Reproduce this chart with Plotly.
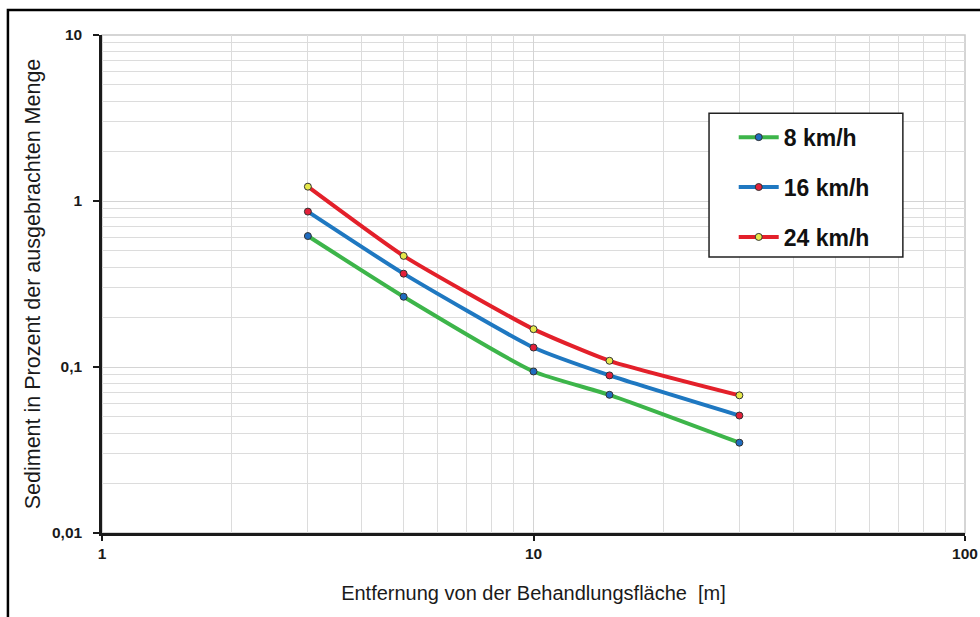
import plotly.graph_objects as go

distance_m = [3, 5, 10, 15, 30]
series_names = ["8 km/h", "16 km/h", "24 km/h"]
sed_8 = [0.615, 0.265, 0.094, 0.068, 0.035]
sed_16 = [0.863, 0.365, 0.131, 0.089, 0.051]
sed_24 = [1.22, 0.467, 0.169, 0.109, 0.0675]

y_tickvals = [0.01, 0.1, 1, 10]
y_ticktext = ["0,01", "0,1", "1", "10"]
x_tickvals = [1, 10, 100]
x_ticktext = ["1", "10", "100"]

line_colors = ["#3db54a", "#1f78c1", "#e3202a"]
marker_colors = ["#1f6cc0", "#e3203a", "#e6e84a"]
series_values = [sed_8, sed_16, sed_24]

fig = go.Figure()
for name, vals, lc, mc in zip(series_names, series_values, line_colors, marker_colors):
    fig.add_trace(go.Scatter(
        x=distance_m, y=vals, name=name, mode="lines+markers",
        line=dict(color=lc, width=4, shape="spline", smoothing=0.5),
        marker=dict(color=mc, size=7, line=dict(color="#333333", width=1)),
        legendgroup=name,
    ))

font_family = "Liberation Sans, Arial, sans-serif"

fig.update_layout(
    width=980, height=617,
    margin=dict(l=102, r=15, t=35, b=84, autoexpand=False),
    paper_bgcolor="white", plot_bgcolor="white",
    font=dict(family=font_family, color="#1a1a1a"),
    showlegend=True,
    legend=dict(
        x=0.732, y=0.838, xanchor="left", yanchor="top",
        borderwidth=0, bgcolor="rgba(0,0,0,0)",
        font=dict(size=23, family=font_family, color="#111111", weight="bold"),
        itemwidth=40, tracegroupgap=17, traceorder="grouped",
    ),
    xaxis=dict(
        type="log", range=[0, 2], automargin=False,
        tickvals=x_tickvals, ticktext=["<b>%s</b>" % t for t in x_ticktext],
        tickfont=dict(size=15.5, color="#1a1a1a"),
        ticks="outside", ticklen=5, tickcolor="#1a1a1a", tickwidth=1.5,
        showline=True, linecolor="#1a1a1a", linewidth=2.5,
        showgrid=True, gridcolor="#d4d4d4", gridwidth=1,
        minor=dict(dtick="D1", showgrid=True, gridcolor="#dcdcdc", ticks=""),
        title=dict(text="Entfernung von der Behandlungsfläche  [m]",
                   font=dict(size=20, color="#1a1a1a"), standoff=25),
        zeroline=False,
    ),
    yaxis=dict(
        type="log", range=[-2, 1], automargin=False,
        tickvals=y_tickvals, ticktext=["<b>%s</b>" % t for t in y_ticktext],
        tickfont=dict(size=15.5, color="#1a1a1a"),
        ticks="outside", ticklen=6, tickcolor="#1a1a1a", tickwidth=1.5,
        ticklabelstandoff=8,
        showline=True, linecolor="#1a1a1a", linewidth=2.5,
        showgrid=True, gridcolor="#d4d4d4", gridwidth=1,
        minor=dict(dtick="D1", showgrid=True, gridcolor="#dcdcdc", ticks=""),
        title=dict(text="Sediment in Prozent der ausgebrachten Menge",
                   font=dict(size=21.5, color="#1a1a1a"), standoff=6),
        zeroline=False,
    ),
    shapes=[
        dict(type="rect", xref="paper", yref="paper", x0=0, x1=1, y0=0, y1=1,
             line=dict(color="#c8c8c8", width=1.5), layer="below"),
        dict(type="rect", xref="paper", yref="paper", x0=0.7034, x1=0.928, y0=0.554, y1=0.843,
             line=dict(color="#222222", width=1.5), fillcolor="white", opacity=1, layer="above"),
        dict(type="rect", xref="paper", yref="paper", x0=-0.109, x1=1.1, y0=-0.3, y1=1.0502,
             line=dict(color="black", width=2.5), layer="above"),
    ],
)

fig.write_html("out.html", config={"displayModeBar": False},
               post_script="document.body.style.margin='0';document.body.style.overflow='hidden';")
